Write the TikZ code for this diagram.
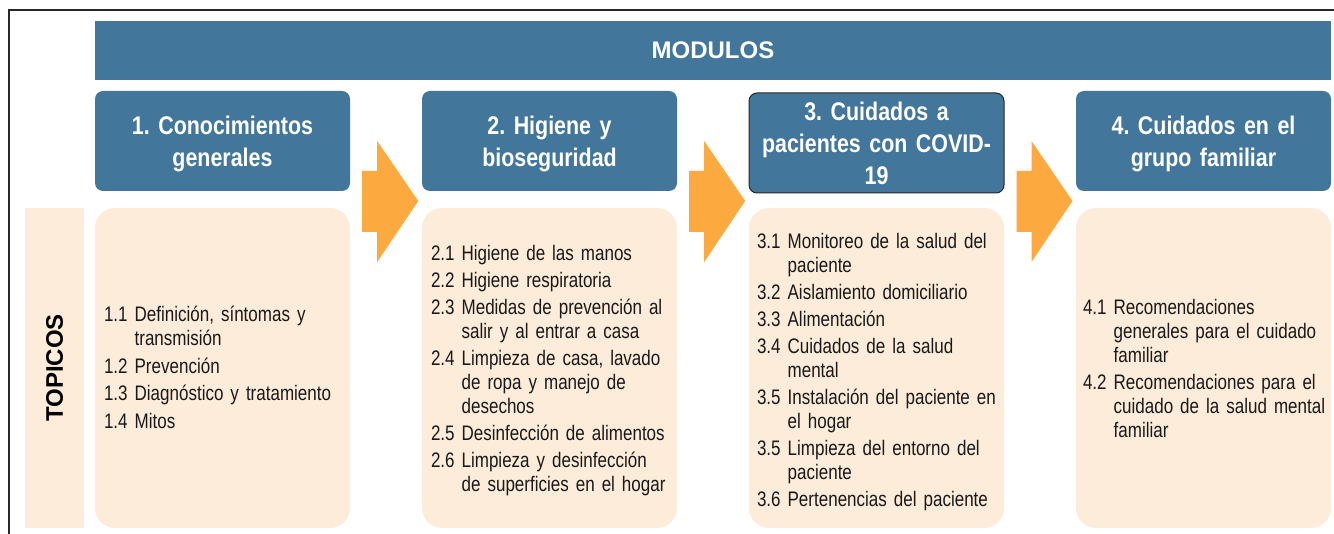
\documentclass[tikz,border=0pt]{standalone}
\usepackage{fontspec}
\setmainfont{Liberation Sans}
\newfontfamily\narrowfont[FakeStretch=0.81]{Liberation Sans}
\newfontfamily\hdrfont[FakeStretch=0.84]{Liberation Sans}
\definecolor{modblue}{RGB}{66,118,155}
\definecolor{peach}{RGB}{253,236,217}
\definecolor{arroworange}{RGB}{252,169,64}
\definecolor{bodytext}{RGB}{25,25,25}
\definecolor{framegray}{RGB}{40,40,40}
\frenchspacing
\newcommand\itm[2]{\par\setbox0\hbox{#1\ }\hangindent=\wd0 \hangafter=1 \noindent\strut\box0 #2\strut}
\tikzset{
  bar/.style={fill=modblue, text=white, font=\bfseries\fontsize{24}{28}\selectfont, inner sep=0pt},
  hdr/.style={fill=modblue, rounded corners=8pt, minimum width=255pt, minimum height=100pt, inner sep=0pt},
  hdrtext/.style={text width=245pt, inner sep=0pt, align=center, text=white,
    font=\hdrfont\bfseries\fontsize{25.5}{32}\selectfont},
  topicbox/.style={fill=peach, rounded corners=20pt, minimum width=255pt, minimum height=320pt, inner sep=0pt},
  topictext/.style={anchor=west, text width=250pt, inner sep=0pt, align=left, text=bodytext,
    font=\narrowfont\fontsize{21}{24}\selectfont},
  arrowfill/.style={fill=arroworange},
  frameline/.style={draw=framegray, line width=1.2pt}
}
\begin{document}
\begin{tikzpicture}[x=1pt,y=-1pt]
\useasboundingbox (0,0) rectangle (1334,534);
% frame
\coordinate (fl) at (9,534);
\coordinate (fc) at (9,10);
\coordinate (fr) at (1334,10);
\draw[frameline] (fl) -- (fc) -- (fr);
% modulos bar
\node[bar, minimum width=1236pt, minimum height=59pt] (mod) at (713,50.5) {MODULOS};
% topicos bar
\node[fill=peach, minimum width=59pt, minimum height=320pt, inner sep=0pt] (top) at (54.5,368) {};
\node[rotate=90, font=\bfseries\fontsize{24}{28}\selectfont, text=black] (toptxt) at (top.center) {TOPICOS};
% headers
\node[hdr] (h1) at (222.5,141) {};
\node[hdr] (h2) at (549.5,141) {};
\node[hdr, draw=black!85, line width=1pt] (h3) at (876.5,143) {};
\node[hdr] (h4) at (1203.5,141) {};
\node[hdrtext] (h1t) at ([yshift=-3pt]h1.center) {1. Conocimientos\\generales};
\node[hdrtext] (h2t) at ([yshift=-3pt]h2.center) {2. Higiene y\\bioseguridad};
\node[hdrtext] (h3t) at (h3.center) {3. Cuidados a\\pacientes con COVID-\\19};
\node[hdrtext] (h4t) at ([yshift=-3pt]h4.center) {4. Cuidados en el\\grupo familiar};
% topic boxes
\node[topicbox] (b1) at (222.5,368) {};
\node[topicbox] (b2) at (549.5,368) {};
\node[topicbox] (b3) at (876.5,368) {};
\node[topicbox] (b4) at (1203.5,368) {};
% topic texts
\node[topictext] (t1) at ([xshift=9pt,yshift=3pt]b1.west) {\setlength{\parskip}{3.5pt}%
\itm{1.1}{Definición, síntomas y\newline transmisión}
\itm{1.2}{Prevención}
\itm{1.3}{Diagnóstico y tratamiento}
\itm{1.4}{Mitos}\par};
\node[topictext] (t2) at ([xshift=9pt,yshift=2pt]b2.west) {\setlength{\parskip}{3pt}%
\itm{2.1}{Higiene de las manos}
\itm{2.2}{Higiene respiratoria}
\itm{2.3}{Medidas de prevención al\newline salir y al entrar a casa}
\itm{2.4}{Limpieza de casa, lavado\newline de ropa y manejo de\newline desechos}
\itm{2.5}{Desinfección de alimentos}
\itm{2.6}{Limpieza y desinfección\newline de superficies en el hogar}\par};
\node[topictext] (t3) at ([xshift=8pt]b3.west) {\setlength{\parskip}{3pt}%
\itm{3.1}{Monitoreo de la salud del\newline paciente}
\itm{3.2}{Aislamiento domiciliario}
\itm{3.3}{Alimentación}
\itm{3.4}{Cuidados de la salud\newline mental}
\itm{3.5}{Instalación del paciente en\newline el hogar}
\itm{3.5}{Limpieza del entorno del\newline paciente}
\itm{3.6}{Pertenencias del paciente}\par};
\node[topictext] (t4) at ([xshift=7pt,yshift=2pt]b4.west) {\setlength{\parskip}{3pt}%
\itm{4.1}{Recomendaciones\newline generales para el cuidado\newline familiar}
\itm{4.2}{Recomendaciones para el\newline cuidado de la salud mental\newline familiar}\par};
% arrows between modules
\foreach \n in {h1,h2,h3}{
  \fill[arrowfill, shift={(\n.east |- h1.east)}]
    (12,30) -- (27,30) -- (27,0) -- (68,60) -- (27,121) -- (27,91) -- (12,91) -- cycle;
}
\end{tikzpicture}
\end{document}
